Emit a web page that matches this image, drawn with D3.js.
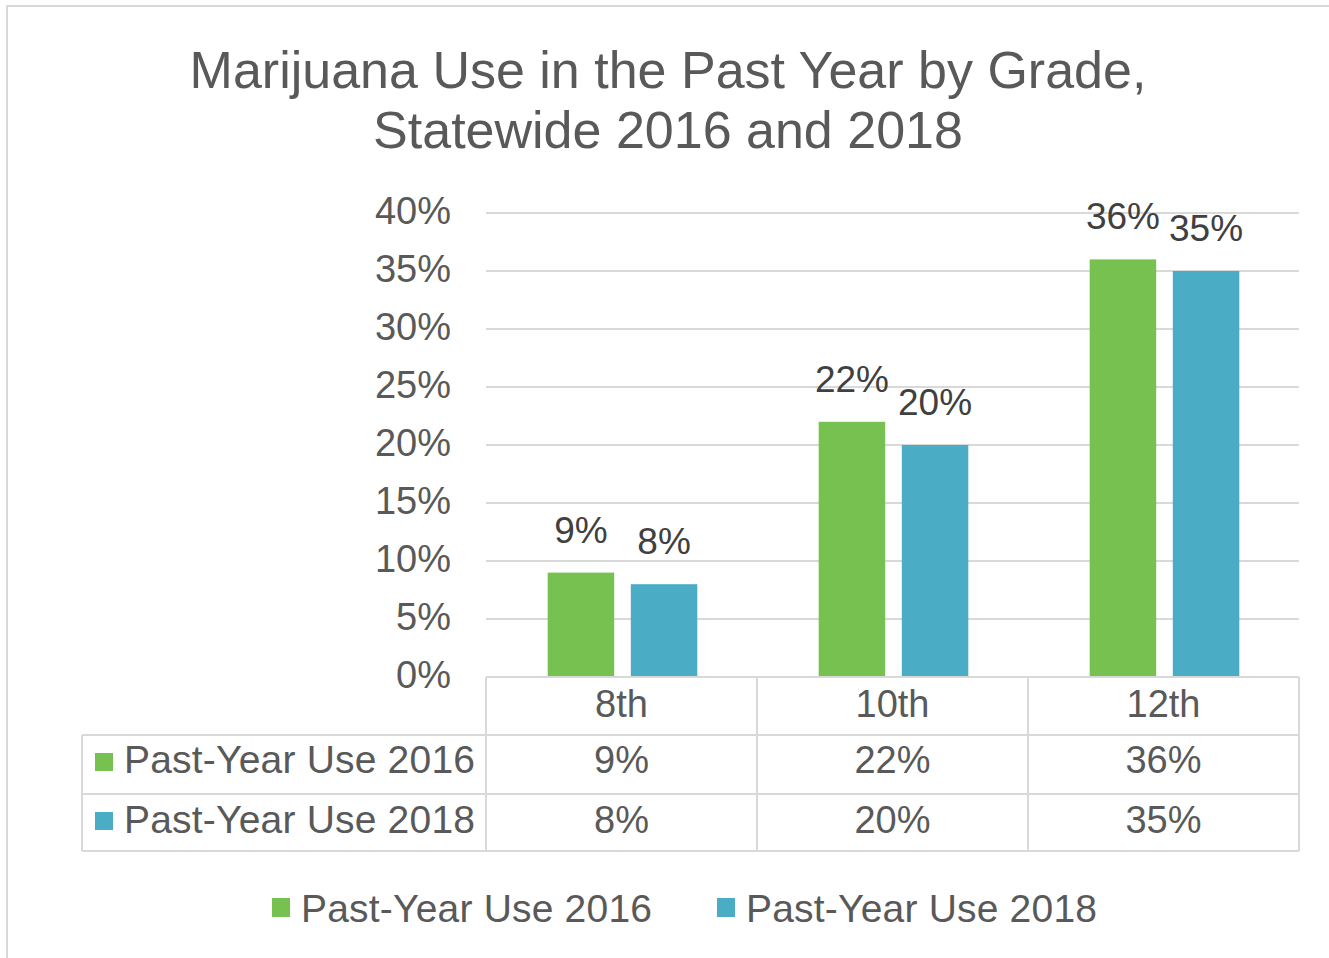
<!DOCTYPE html>
<html>
<head>
<meta charset="utf-8">
<script src="https://cdn.jsdelivr.net/npm/d3@7"></script>
<style>
  html, body { margin: 0; padding: 0; background: #fff; }
  svg { display: block; }
  text { font-family: "Liberation Sans", Arial, sans-serif; }
</style>
</head>
<body>
<svg id="chart" width="1329" height="958"></svg>
<script>
// Chart data
const titleLines = ["Marijuana Use in the Past Year by Grade,", "Statewide 2016 and 2018"];
const grades = ["8th", "10th", "12th"];
const seriesNames = ["Past-Year Use 2016", "Past-Year Use 2018"];
const use2016 = [9, 22, 36];
const use2018 = [8, 20, 35];
const yTicks = [0, 5, 10, 15, 20, 25, 30, 35, 40];
const seriesColors = ["#77C151", "#4BACC6"];

const seriesValues = [use2016, use2018];
const fmt = d => d + "%";

const svg = d3.select("#chart");
const textColor = "#595959";
const labelColor = "#404040";
const gridColor = "#d9d9d9";

// Outer frame
svg.append("rect")
  .attr("x", 7).attr("y", 6)
  .attr("width", 1340).attr("height", 970)
  .attr("fill", "none").attr("stroke", gridColor).attr("stroke-width", 2);

// Title
svg.append("text")
  .attr("text-anchor", "middle")
  .attr("fill", textColor)
  .attr("font-size", 52)
  .selectAll("tspan").data(titleLines).join("tspan")
  .attr("x", 668).attr("y", (d, i) => 88 + i * 60)
  .text(d => d);

// Scales
const plotLeft = 486, plotRight = 1299, plotTop = 213, plotBottom = 677;
const y = d3.scaleLinear().domain([0, 40]).range([plotBottom, plotTop]);
const x0 = d3.scaleBand().domain(grades).range([plotLeft, plotRight]).padding(0);
const x1 = d3.scaleBand().domain(seriesNames).range([0, x0.bandwidth()])
  .paddingInner(0.2).paddingOuter(0.73);

// Gridlines
svg.append("g")
  .selectAll("line").data(yTicks.filter(t => t > 0)).join("line")
  .attr("x1", plotLeft).attr("x2", plotRight)
  .attr("y1", d => y(d)).attr("y2", d => y(d))
  .attr("stroke", gridColor).attr("stroke-width", 2);

// Y axis labels
const yAxis = d3.axisLeft(y).tickValues(yTicks).tickFormat(fmt).tickSize(0).tickPadding(0);
const yG = svg.append("g").attr("transform", "translate(451,0)").call(yAxis);
yG.select(".domain").remove();
yG.selectAll("text")
  .attr("font-family", "'Liberation Sans', Arial, sans-serif")
  .attr("font-size", 38)
  .attr("fill", textColor)
  .attr("dy", null)
  .attr("y", 10);

// Bars
const groups = svg.append("g").selectAll("g").data(grades).join("g")
  .attr("transform", d => `translate(${x0(d)},0)`);

groups.selectAll("rect")
  .data((g, gi) => seriesNames.map((s, si) => ({ s, si, v: seriesValues[si][gi] })))
  .join("rect")
  .attr("x", d => x1(d.s) + 1)
  .attr("width", x1.bandwidth())
  .attr("y", d => y(d.v))
  .attr("height", d => y(0) - y(d.v))
  .attr("fill", d => seriesColors[d.si]);

// Value labels above bars
groups.selectAll("text.val")
  .data((g, gi) => seriesNames.map((s, si) => ({ s, si, v: seriesValues[si][gi] })))
  .join("text")
  .attr("class", "val")
  .attr("x", d => x1(d.s) + 1 + x1.bandwidth() / 2)
  .attr("y", d => y(d.v) - 30)
  .attr("text-anchor", "middle")
  .attr("font-size", 37)
  .attr("fill", labelColor)
  .text(d => fmt(d.v));

// Data table beneath the plot
const tableLeft = 82;
const rowEdges = [677, 735, 794, 851];
const table = svg.append("g");
const lineAttrs = sel => sel.attr("stroke", gridColor).attr("stroke-width", 2);

// horizontal rules
table.append("line").call(lineAttrs)
  .attr("x1", plotLeft).attr("x2", plotRight).attr("y1", rowEdges[0]).attr("y2", rowEdges[0]);
rowEdges.slice(1).forEach(yy => {
  table.append("line").call(lineAttrs)
    .attr("x1", tableLeft).attr("x2", plotRight).attr("y1", yy).attr("y2", yy);
});
// vertical rules
table.append("line").call(lineAttrs)
  .attr("x1", tableLeft).attr("x2", tableLeft).attr("y1", rowEdges[1]).attr("y2", rowEdges[3]);
[plotLeft, ...grades.map(g => x0(g) + x0.bandwidth())].forEach(xx => {
  table.append("line").call(lineAttrs)
    .attr("x1", xx).attr("x2", xx).attr("y1", rowEdges[0]).attr("y2", rowEdges[3]);
});

// header: grade names
table.selectAll("text.grade").data(grades).join("text")
  .attr("class", "grade")
  .attr("x", d => x0(d) + x0.bandwidth() / 2)
  .attr("y", 717)
  .attr("text-anchor", "middle")
  .attr("font-size", 38)
  .attr("fill", textColor)
  .text(d => d);

// series rows
const rowBaselines = [773, 833];
seriesNames.forEach((s, si) => {
  const rowTop = rowEdges[si + 1];
  table.append("rect")
    .attr("x", 95).attr("y", rowTop + 18)
    .attr("width", 18).attr("height", 18)
    .attr("fill", seriesColors[si]);
  table.append("text")
    .attr("x", 124).attr("y", rowBaselines[si])
    .attr("font-size", 39)
    .attr("textLength", 351)
    .attr("lengthAdjust", "spacing")
    .attr("fill", textColor)
    .text(s);
  table.selectAll(null).data(seriesValues[si]).join("text")
    .attr("x", (d, i) => x0(grades[i]) + x0.bandwidth() / 2)
    .attr("y", rowBaselines[si])
    .attr("text-anchor", "middle")
    .attr("font-size", 38)
    .attr("fill", textColor)
    .text(d => fmt(d));
});

// Legend
const legendX = [272, 717];
const legend = svg.append("g").selectAll("g").data(seriesNames).join("g")
  .attr("transform", (d, i) => `translate(${legendX[i]},0)`);
legend.append("rect")
  .attr("x", 0).attr("y", 898)
  .attr("width", 18).attr("height", 19)
  .attr("fill", (d, i) => seriesColors[i]);
legend.append("text")
  .attr("x", 29).attr("y", 922)
  .attr("font-size", 39)
  .attr("textLength", 351)
  .attr("lengthAdjust", "spacing")
  .attr("fill", textColor)
  .text(d => d);
</script>
</body>
</html>
